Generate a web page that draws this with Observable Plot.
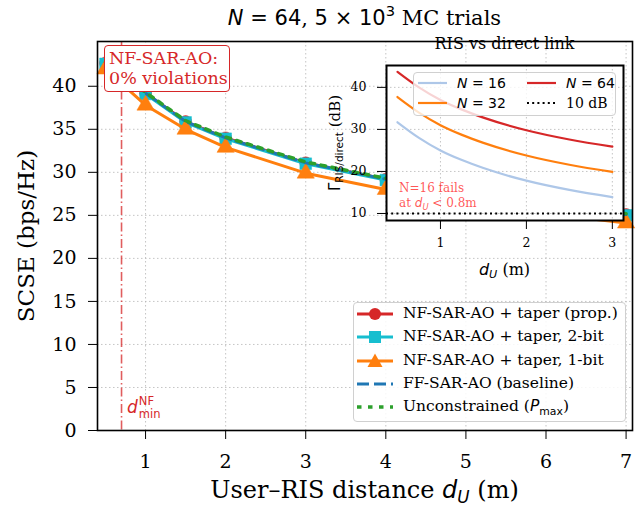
<!DOCTYPE html>
<html><head><meta charset="utf-8">
<script src="https://cdn.jsdelivr.net/npm/d3@7"></script>
<script src="https://cdn.jsdelivr.net/npm/@observablehq/plot@0.6"></script>
<style>
html,body{margin:0;padding:0;background:#fff;}
#fig{position:relative;width:641px;height:506px;overflow:hidden;font-family:"DejaVu Serif",serif;color:#000;}
#fig svg{position:absolute;left:0;top:0;overflow:visible;}
#fig svg text{font-family:"DejaVu Serif",serif !important;}
.lbl{position:absolute;white-space:nowrap;line-height:1;}
.m{font-family:"DejaVu Sans",sans-serif;font-style:normal;}
.mi{font-family:"DejaVu Sans",sans-serif;font-style:italic;}
sub,sup{font-size:70%;line-height:0;}
sub{vertical-align:-0.3em;}
sup{vertical-align:0.55em;}
</style></head>
<body><div id="fig"></div>
<script>
// ---- data ----
const distances = [0.5, 1, 1.5, 2, 3, 4, 5, 6, 7];
const scseProp  = [42.7, 39.2, 35.9, 34.0, 31.1, 29.2, 27.6, 26.2, 25.1];
const scse2bit  = [42.6, 39.1, 35.8, 33.9, 31.0, 29.1, 27.5, 26.1, 25.0];
const scse1bit  = [42.0, 37.8, 35.0, 32.9, 29.9, 28.0, 26.5, 25.2, 24.1];
const scseFF    = [42.7, 39.2, 35.9, 34.0, 31.1, 29.2, 27.6, 26.2, 25.1];
const scseUncon = [42.8, 39.3, 36.0, 34.1, 31.2, 29.3, 27.7, 26.3, 25.2];
const xTicks = [1, 2, 3, 4, 5, 6, 7];
const yTicks = [0, 5, 10, 15, 20, 25, 30, 35, 40];
const dMinNF = 0.7;

const insetDistances = [0.5, 0.75, 1, 1.25, 1.5, 2, 2.5, 3];
const gammaN16 = [31.7, 28.0, 25.0, 22.7, 20.8, 17.8, 15.6, 13.9];
const gammaN32 = [37.7, 34.0, 31.0, 28.7, 26.8, 23.8, 21.6, 19.9];
const gammaN64 = [43.7, 40.0, 37.0, 34.7, 32.8, 29.8, 27.6, 25.9];
const insetXTicks = [1, 2, 3];
const insetYTicks = [10, 20, 30, 40];
const thresholdDb = 10;

// ---- styles ----
const serif = "'DejaVu Serif', serif";
const fmt = d => String(d);
const mainSeries = [
  {label: "NF-SAR-AO + taper (prop.)", values: scseProp, color: "#d62728", symbol: "circle", r: 6, width: 3},
  {label: "NF-SAR-AO + taper, 2-bit", values: scse2bit, color: "#17becf", symbol: "square", r: 6.6, width: 3},
  {label: "NF-SAR-AO + taper, 1-bit", values: scse1bit, color: "#ff7f0e", symbol: "triangle", r: 6.4, width: 3},
  {label: "FF-SAR-AO (baseline)", values: scseFF, color: "#1f77b4", dash: "12,5", width: 3},
  {label: "Unconstrained (<span class='mi'>P</span><sub class='m'>max</sub>)", values: scseUncon, color: "#2ca02c", dash: "4.5,6.5", width: 3.5}
];
const insetSeries = [
  {label: "<span class='mi'>N</span><span class='m'> = 16</span>", values: gammaN16, color: "#aec7e8"},
  {label: "<span class='mi'>N</span><span class='m'> = 32</span>", values: gammaN32, color: "#ff7f0e"},
  {label: "<span class='mi'>N</span><span class='m'> = 64</span>", values: gammaN64, color: "#d62728"}
];
const rows = (xs, ys) => xs.map((d, i) => ({d, v: ys[i]}));
const gridStyle = {stroke: "#b0b0b0", strokeOpacity: 0.75, strokeDasharray: "1.5,2.5", strokeWidth: 1};

const fig = document.getElementById("fig");

// ---- main plot ----
const mainMarks = [
  Plot.ruleX(xTicks, gridStyle),
  Plot.ruleY(yTicks.filter(t => t > 0), gridStyle),
  Plot.ruleX([dMinNF], {stroke: "#d62728", strokeOpacity: 0.75, strokeWidth: 1.6, strokeDasharray: "9,3,1.5,3"})
];
for (const s of mainSeries) {
  const data = rows(distances, s.values);
  mainMarks.push(Plot.line(data, {x: "d", y: "v", stroke: s.color, strokeWidth: s.width, strokeDasharray: s.dash}));
  if (s.symbol) mainMarks.push(Plot.dot(data, {x: "d", y: "v", symbol: s.symbol, r: s.r, fill: s.color, stroke: s.color, strokeWidth: 0.5}));
}
mainMarks.push(Plot.frame({stroke: "#000", strokeWidth: 1.6}));

const main = Plot.plot({
  width: 641, height: 506,
  marginLeft: 97, marginRight: 9, marginTop: 41, marginBottom: 76,
  style: {fontFamily: serif, fontSize: "19px", background: "transparent", color: "#000", overflow: "visible"},
  x: {domain: [0.4, 7.08], ticks: xTicks, tickFormat: fmt, tickSize: 9, tickPadding: 15, label: null},
  y: {domain: [0, 45.2], ticks: yTicks, tickFormat: fmt, tickSize: 9, tickPadding: 12, label: null},
  marks: mainMarks
});
fig.appendChild(main);

// ---- inset plot ----
const insetLeft = 340, insetTop = 30;
const insetMarks = [
  Plot.frame({fill: "white", stroke: "none"}),
  Plot.ruleX(insetXTicks, gridStyle),
  Plot.ruleY(insetYTicks, gridStyle)
];
for (const s of insetSeries) {
  insetMarks.push(Plot.line(rows(insetDistances, s.values), {x: "d", y: "v", stroke: s.color, strokeWidth: 2.2, curve: "monotone-x"}));
}
insetMarks.push(Plot.ruleY([thresholdDb], {stroke: "#000", strokeWidth: 1.8, strokeDasharray: "2,3.2"}));
insetMarks.push(Plot.frame({stroke: "#000", strokeWidth: 2}));
const inset = Plot.plot({
  width: 300, height: 260,
  marginLeft: 46, marginRight: 17, marginTop: 35, marginBottom: 70,
  style: {fontFamily: serif, fontSize: "12.5px", background: "transparent", color: "#000", overflow: "visible"},
  x: {domain: [0.372, 3.13], ticks: insetXTicks, tickFormat: fmt, tickSize: 9, tickPadding: 9, label: null},
  y: {domain: [8.33, 45.2], ticks: insetYTicks, tickFormat: fmt, tickSize: 9, tickPadding: 11, label: null},
  marks: insetMarks
});
inset.style.left = insetLeft + "px";
inset.style.top = insetTop + "px";
fig.appendChild(inset);

// ---- text helpers ----
function label(html, x, y, o = {}) {
  const el = document.createElement("div");
  el.className = "lbl";
  el.innerHTML = html;
  el.style.left = x + "px";
  el.style.top = y + "px";
  el.style.fontSize = (o.size || 16) + "px";
  el.style.color = o.color || "#000";
  const tx = o.anchor === "start" ? "0" : o.anchor === "end" ? "-100%" : "-50%";
  el.style.transform = `translate(${tx},-50%)` + (o.rotate ? ` rotate(${o.rotate}deg)` : "");
  if (o.css) Object.assign(el.style, o.css);
  fig.appendChild(el);
  return el;
}
const mx = main.scale("x"), my = main.scale("y");
const ix = inset.scale("x"), iy = inset.scale("y");
const mainCx = (mx.range[0] + mx.range[1]) / 2, mainCy = (my.range[0] + my.range[1]) / 2;
const insCx = insetLeft + (ix.range[0] + ix.range[1]) / 2, insCy = insetTop + (iy.range[0] + iy.range[1]) / 2;

// titles and axis labels
label("<span class='mi'>N</span><span class='m'> = 64</span>, <span class='m'>5 × 10<sup>3</sup></span> MC trials", mainCx, 18, {size: 21});
label("User–RIS distance <span class='mi'>d</span><sub class='mi'>U</sub> (m)", mainCx, 490, {size: 24});
label("SCSE (bps/Hz)", 26, mainCy, {size: 23, rotate: -90});
label("RIS vs direct link", insCx, 44, {size: 16});
label("<span class='mi'>d</span><sub class='mi'>U</sub> (m)", insCx, 270, {size: 16});
label("<span class='m'>Γ</span><sub class='m'>RIS/direct</sub> (dB)", 335, insCy, {size: 15, rotate: -90});

// NF annotation box
label("NF-SAR-AO:<br>0% violations", 104, 45, {anchor: "start", size: 17.5, color: "#d62728",
  css: {transform: "none", lineHeight: "20px", padding: "2px 4px 3px 4px", border: "1.3px solid #d62728", borderRadius: "4px", background: "#fff", boxSizing: "border-box", width: "126px"}});

// d_min^NF label
label("<span class='mi' style='font-size:17px'>d</span><span class='m' style='display:inline-block;vertical-align:middle;font-size:11.5px;line-height:13px;margin-left:1px'><span style='display:block'>NF</span><span style='display:block'>min</span></span>",
  mx.apply(dMinNF) + 6, my.apply(2.6), {anchor: "start", size: 17, color: "#d62728"});

// inset note
label("N=16 fails", insetLeft + ix.apply(0.5) + 2, insetTop + iy.apply(15.9), {anchor: "start", size: 12, color: "rgba(255,0,0,0.68)"});
label("at <span class='mi'>d</span><sub class='mi'>U</sub><span class='m'> &lt; </span>0.8m", insetLeft + ix.apply(0.5) + 2, insetTop + iy.apply(12.3), {anchor: "start", size: 12, color: "rgba(255,0,0,0.68)"});

// ---- main legend ----
function sample(s, w, h, lw) {
  let m = "";
  const cx = w / 2, cy = h / 2;
  if (s.symbol === "circle") m = `<circle cx="${cx}" cy="${cy}" r="6" fill="${s.color}"/>`;
  if (s.symbol === "square") m = `<rect x="${cx - 6}" y="${cy - 6}" width="12" height="12" fill="${s.color}"/>`;
  if (s.symbol === "triangle") m = `<path d="M${cx},${cy - 7.5}L${cx + 7.5},${cy + 6}L${cx - 7.5},${cy + 6}Z" fill="${s.color}"/>`;
  return `<svg width="${w}" height="${h}" style="position:absolute;left:0;top:0"><line x1="0" x2="${w}" y1="${cy}" y2="${cy}" stroke="${s.color}" stroke-width="${lw || s.width}" ${s.dash ? `stroke-dasharray="${s.dash}"` : ""}/>${m}</svg>`;
}
const leg = document.createElement("div");
Object.assign(leg.style, {position: "absolute", left: "353px", top: "302px", width: "273px", height: "120px",
  border: "1.2px solid #d0d0d0", borderRadius: "4px", background: "rgba(255,255,255,0.85)", boxSizing: "border-box"});
fig.appendChild(leg);
mainSeries.forEach((s, i) => {
  const y = 11 + i * 23.3;
  const sw = document.createElement("div");
  Object.assign(sw.style, {position: "absolute", left: "3px", top: (y - 8) + "px", width: "36px", height: "16px"});
  sw.innerHTML = sample(s, 36, 16);
  leg.appendChild(sw);
  const t = document.createElement("div");
  t.className = "lbl";
  t.innerHTML = s.label;
  Object.assign(t.style, {left: "49px", top: y + "px", fontSize: "15.5px", transform: "translate(0,-50%)"});
  leg.appendChild(t);
});

// ---- inset legend ----
const ileg = document.createElement("div");
Object.assign(ileg.style, {position: "absolute", left: "413px", top: "72px", width: "203px", height: "44px",
  border: "1.2px solid #d0d0d0", borderRadius: "4px", background: "rgba(255,255,255,0.8)", boxSizing: "border-box"});
fig.appendChild(ileg);
const insetLegendItems = [
  {s: insetSeries[0], col: 0, row: 0}, {s: insetSeries[1], col: 0, row: 1},
  {s: insetSeries[2], col: 1, row: 0},
  {s: {label: "10 dB", color: "#000", dash: "2,3.2", width: 1.8}, col: 1, row: 1}
];
insetLegendItems.forEach(({s, col, row}) => {
  const y = 10 + row * 20;
  const x0 = col === 0 ? 4 : 113;
  const sw = document.createElement("div");
  Object.assign(sw.style, {position: "absolute", left: x0 + "px", top: (y - 6) + "px", width: "29px", height: "12px"});
  sw.innerHTML = sample(s, 29, 12, s.width || 2.2);
  ileg.appendChild(sw);
  const t = document.createElement("div");
  t.className = "lbl";
  t.innerHTML = s.label;
  Object.assign(t.style, {left: (x0 + 39) + "px", top: y + "px", fontSize: "14px", transform: "translate(0,-50%)"});
  ileg.appendChild(t);
});
</script>
</body></html>
